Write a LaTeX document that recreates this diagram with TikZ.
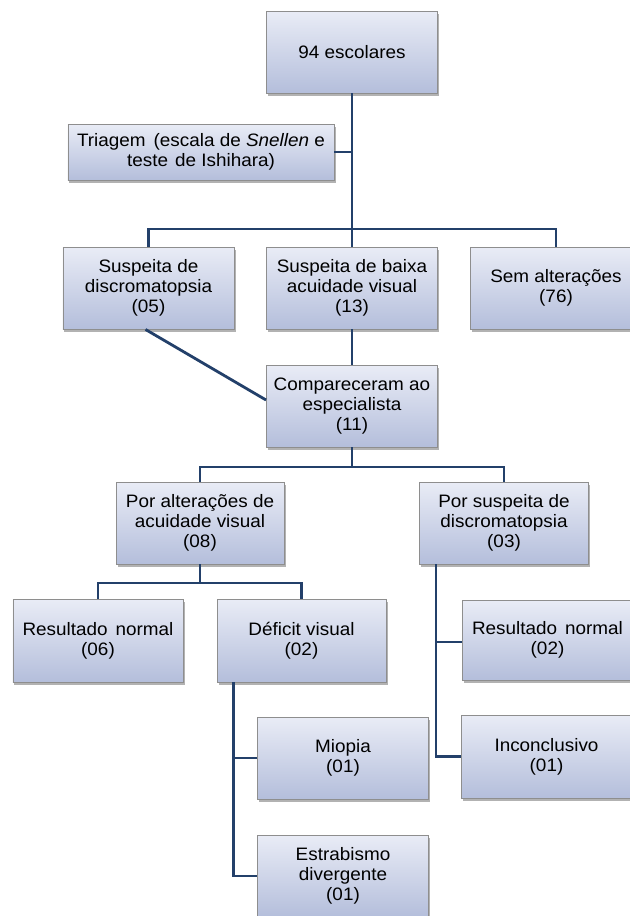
\documentclass[tikz,border=0pt]{standalone}
\usepackage{fontspec}
\setmainfont[FakeStretch=1.05]{Liberation Sans}
\usetikzlibrary{shadows,calc}
\definecolor{linec}{HTML}{23406A}
\definecolor{boxtop}{HTML}{E9ECF6}
\definecolor{boxbot}{HTML}{B4BEDB}
\definecolor{boxedge}{HTML}{8E8E8E}
\tikzset{
  box/.style={rectangle, draw=boxedge, line width=0.9bp, top color=boxtop, bottom color=boxbot,
    minimum width=171bp, minimum height=82bp, inner sep=2bp, align=center,
    font=\fontsize{18bp}{20bp}\selectfont,
    drop shadow={shadow xshift=1.5bp, shadow yshift=-2.5bp, fill=black, opacity=0.3}},
  conn/.style={draw=linec, line width=2.8bp}
}
\begin{document}
\begin{tikzpicture}[x=1bp,y=-1bp]
\clip (0,0) rectangle (630,916);
\fill[white] (0,0) rectangle (630,916);
% nodes
\node[box] (top) at (352,52) {94 escolares};
\node[box, minimum width=266bp, minimum height=56bp] (tri) at (201,152) {Triagem\hspace{0.15em} (escala de \textit{Snellen} e\\teste\hspace{0.1em} de Ishihara)};
\node[box] (s1) at (148.5,288) {Suspeita de\\discromatopsia\\(05)};
\node[box] (s2) at (352,288) {Suspeita de baixa\\acuidade visual\\(13)};
\node[box] (s3) at (556,288) {Sem alterações\\(76)};
\node[box] (comp) at (352,406) {Compareceram ao\\especialista\\(11)};
\node[box, minimum width=168bp] (p1) at (200,523) {Por alterações de\\acuidade visual\\(08)};
\node[box, minimum width=169bp] (p2) at (504,523) {Por suspeita de\\discromatopsia\\(03)};
\node[box, minimum width=170bp, minimum height=83bp] (r1) at (98,640.5) {Resultado\hspace{0.15em} normal\\(06)};
\node[box, minimum width=169bp, minimum height=83bp] (def) at (301.5,640.5) {Déficit visual\\(02)};
\node[box, minimum height=80bp] (r2) at (547.5,640) {Resultado\hspace{0.15em} normal\\(02)};
\node[box] (mio) at (343,758) {Miopia\\(01)};
\node[box, minimum height=83bp] (inc) at (546.5,756.5) {Inconclusivo\\(01)};
\node[box] (est) at (343,876) {Estrabismo\\divergente\\(01)};
% junctions
\coordinate (j1) at (352,229);
\coordinate (j2) at (352,467);
\coordinate (j3) at (200,583);
\coordinate (v1) at ([xshift=17bp]def.south west);
\coordinate (v2) at ([xshift=17bp]p2.south west);
% connectors
\draw[conn] (top.south) -- (j1);
\draw[conn] (tri.east) -- (tri.east -| top.south);
\draw[conn] (s1.north) |- (j1) -| (s3.north);
\draw[conn] (j1) -- (s2.north);
\draw[conn] ([xshift=-3bp]s1.south) -- ([yshift=6bp]comp.west);
\draw[conn] (s2.south) -- (comp.north);
\draw[conn] (comp.south) -- (j2);
\draw[conn] (p1.north) |- (j2) -| (p2.north);
\draw[conn] (p1.south) -- (j3);
\draw[conn] (r1.north) |- (j3) -| (def.north);
\draw[conn] (v1) |- (est.west);
\draw[conn] (mio.west) -- (mio.west -| v1);
\draw[conn] (v2) |- (inc.west);
\draw[conn] ([yshift=-2bp]r2.west) -- ([yshift=-2bp]r2.west -| v2);
\end{tikzpicture}
\end{document}
